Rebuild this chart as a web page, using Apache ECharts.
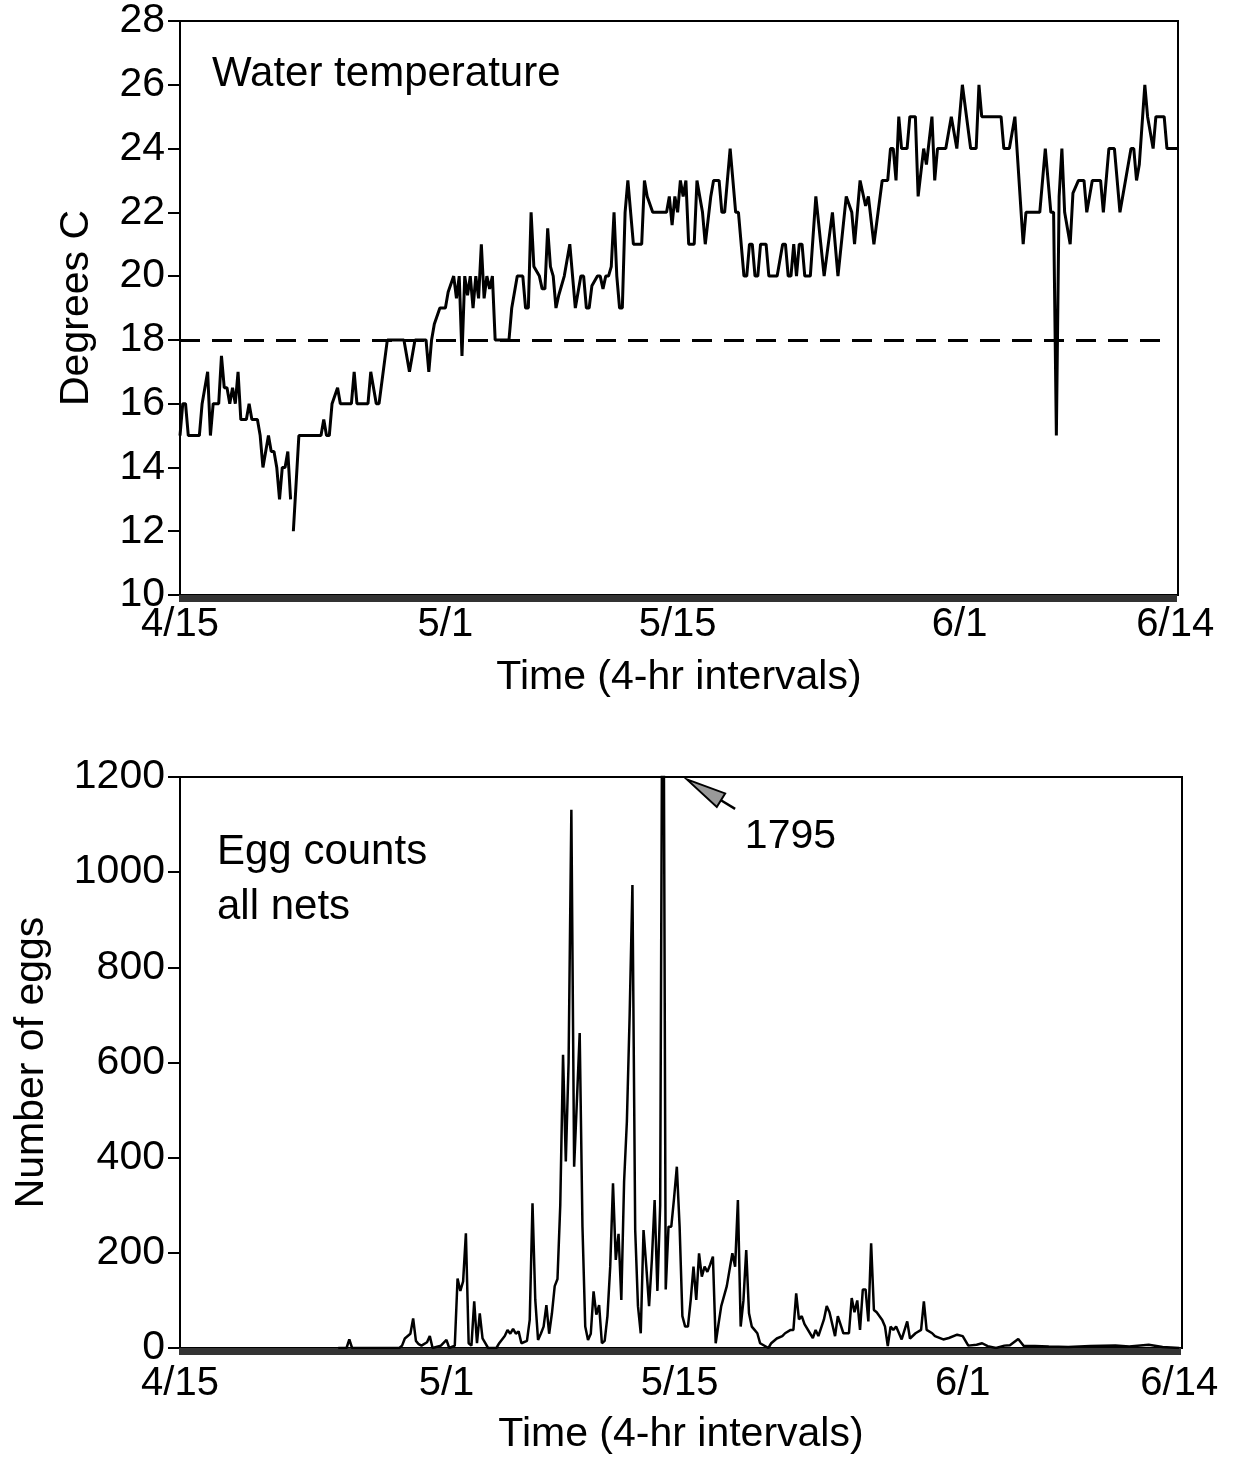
<!DOCTYPE html>
<html><head><meta charset="utf-8">
<script src="https://cdn.jsdelivr.net/npm/echarts@6/dist/echarts.min.js"></script>
<style>html,body{margin:0;padding:0;background:#fff}#c{width:1237px;height:1458px}</style>
</head><body><div id="c"></div>
<script>
// x = 4-hour interval index counted from 4/15 00:00 (6 per day)
const dateLabels = ['4/15', '5/1', '5/15', '6/1', '6/14'];
const dateTickIdx = [0, 96, 180, 282, 360];
const xTitle = 'Time (4-hr intervals)';
const tempTitle = 'Water temperature';
const tempAxisName = 'Degrees C';
const eggTitle = ['Egg counts', 'all nets'];
const eggAxisName = 'Number of eggs';
const threshold = 18;
const peakNote = '1795';
const peakArrowTip = [182.6, 1195];
const peakArrowTail = [200, 1133];
const peakNotePos = [203.5, 1075];

// [interval index, degrees C]
const tempReadings = [[0,15],[1,16],[2,16],[3,15],[7,15],[8,16],[9,16.5],[10,17],[11,15],[12,16],[14,16],[15,17.5],[16,16.5],[17,16.5],[18,16],[19,16.5],[20,16],[21,17],[22,15.5],[24,15.5],[25,16],[26,15.5],[28,15.5],[29,15],[30,14],[32,15],[33,14.5],[34,14.5],[35,14],[36,13],[37,14],[38,14],[39,14.5],[40,13],[40.5,null],[41,12],[43,15],[51,15],[52,15.5],[53,15],[54,15],[55,16],[57,16.5],[58,16],[62,16],[63,17],[64,16],[68,16],[69,17],[71,16],[72,16],[75,18],[81,18],[83,17],[85,18],[89,18],[90,17],[91,18],[92,18.5],[94,19],[96,19],[97,19.5],[99,20],[100,19.3],[101,20],[102,17.5],[103,20],[104,19.4],[105,20],[106,19],[107,20],[108,19.3],[109,21],[110,19.3],[111,20],[112,19.6],[113,20],[114,18],[119,18],[120,19],[121,19.5],[122,20],[124,20],[125,19],[126,19],[127,22],[128,20.3],[130,20],[131,19.6],[132,19.6],[133,21.5],[134,20.3],[135,20],[136,19],[137,19.4],[139,20],[141,21],[142,20],[143,19],[145,20],[146,20],[147,19],[148,19],[149,19.7],[151,20],[152,20],[153,19.6],[154,20],[155,20],[156,20.3],[157,22],[158,20],[159,19],[160,19],[161,22],[162,23],[164,21],[166,21],[167,21],[168,23],[169,22.5],[171,22],[176,22],[177,22.5],[178,21.6],[179,22.5],[180,22],[181,23],[182,22.5],[183,23],[184,21],[186,21],[187,23],[188,22.5],[189,22],[190,21],[192,22.5],[193,23],[195,23],[196,22],[197,22],[198,23],[199,24],[200,23],[201,22],[202,22],[204,20],[205,20],[206,21],[207,21],[208,20],[209,20],[210,21],[212,21],[213,20],[216,20],[218,21],[219,21],[220,20],[221,20],[222,21],[223,20],[224,21],[225,21],[226,20],[228,20],[230,22.5],[233,20],[236,22],[238,20],[241,22.5],[243,22],[244,21],[245,22],[246,23],[248,22.2],[249,22.5],[251,21],[254,23],[256,23],[257,24],[258,24],[259,23],[260,25],[261,24],[263,24],[264,25],[266,25],[267,22.5],[269,24],[270,23.5],[272,25],[273,23],[274,24],[277,24],[279,25],[281,24],[283,26],[286,24],[288,24],[289,26],[290,25],[297,25],[298,24],[300,24],[302,25],[305,21],[306,22],[311,22],[313,24],[315,22],[316,22],[317,15],[318,22.5],[319,24],[320,22],[322,21],[323,22.6],[325,23],[327,23],[328,22],[330,23],[333,23],[334,22],[336,24],[338,24],[339,23],[340,22],[342,23],[344,24],[345,24],[346,23],[347,23.5],[349,26],[350,25],[352,24],[353,25],[356,25],[357,24],[361,24]];

// [interval index, number of eggs]
const eggReadings = [[57,0],[60,0],[61,18],[62,0],[79,0],[80,5],[81,20],[83,30],[84,62],[85,15],[86,8],[87,5],[89,12],[90,25],[91,0],[94,5],[96,17],[97,0],[99,5],[100,146],[101,120],[102,140],[103,241],[104,10],[105,5],[106,98],[107,10],[108,73],[109,20],[110,10],[111,0],[114,0],[115,10],[117,25],[118,38],[119,30],[120,40],[121,30],[122,35],[123,10],[125,15],[126,59],[127,304],[128,101],[129,17],[130,30],[131,45],[132,90],[133,30],[134,73],[135,130],[136,145],[137,300],[138,616],[139,392],[140,600],[141,1131],[142,381],[143,520],[144,662],[145,255],[146,45],[147,17],[148,30],[149,119],[150,70],[151,90],[152,10],[153,15],[154,67],[155,171],[156,346],[157,185],[158,240],[159,101],[160,350],[161,476],[162,700],[163,973],[164,248],[165,88],[166,31],[167,248],[168,171],[169,88],[170,185],[171,311],[172,120],[173,300],[174,1795],[175,123],[176,255],[177,255],[178,315],[179,381],[180,255],[181,67],[182,45],[183,45],[184,101],[185,171],[186,101],[187,199],[188,150],[189,171],[190,160],[191,175],[192,192],[193,10],[194,50],[195,88],[197,130],[199,199],[200,171],[201,311],[202,45],[203,100],[204,206],[205,73],[206,45],[207,38],[208,31],[209,10],[212,0],[213,10],[215,20],[217,25],[218,31],[220,38],[221,38],[222,115],[223,60],[224,67],[225,50],[228,21],[229,38],[230,25],[232,60],[233,88],[234,75],[236,25],[237,67],[239,31],[241,31],[242,105],[243,75],[244,100],[245,38],[246,123],[247,123],[248,56],[249,220],[250,80],[251,75],[253,59],[254,45],[255,4],[256,45],[257,38],[258,45],[260,18],[262,56],[263,20],[265,31],[267,38],[268,98],[269,38],[271,31],[272,25],[275,18],[277,21],[280,28],[282,25],[284,5],[287,7],[289,10],[291,4],[294,0],[297,5],[299,6],[302,19],[304,4],[308,4],[313,3],[320,2],[328,4],[337,5],[342,3],[349,7],[354,2],[360,0]];

const FONT = '"Liberation Sans", Arial, Helvetica, sans-serif';
const tickPositions = [];
for (let i = 0; i <= 360; i++) tickPositions.push(i);

function xAxisFor(gridIndex, labelMargin, nameGap) {
  return {
    type: 'value', gridIndex: gridIndex, min: 0, max: 361,
    name: xTitle, nameLocation: 'middle', nameGap: nameGap,
    nameTextStyle: { fontFamily: FONT, fontSize: 41, color: '#000' },
    axisLine: { show: true, onZero: false, lineStyle: { color: '#000', width: 2 } },
    axisTick: { show: true, customValues: tickPositions, length: 7, lineStyle: { color: '#333', width: 3 } },
    axisLabel: { customValues: dateTickIdx, formatter: function (v) { const k = dateTickIdx.indexOf(v); return k >= 0 ? dateLabels[k] : ''; },
      margin: labelMargin, fontFamily: FONT, fontSize: 40, color: '#000' },
    splitLine: { show: false }
  };
}
function yAxisFor(gridIndex, min, max, interval, name, nameGap) {
  return {
    type: 'value', gridIndex: gridIndex, min: min, max: max, interval: interval,
    name: name, nameLocation: 'middle', nameGap: nameGap, nameRotate: 90,
    nameTextStyle: { fontFamily: FONT, fontSize: 41, color: '#000' },
    axisLine: { show: true, onZero: false, lineStyle: { color: '#000', width: 2 } },
    axisTick: { show: true, length: 12, lineStyle: { color: '#000', width: 2 } },
    axisLabel: { margin: 15, fontFamily: FONT, fontSize: 41, color: '#000', formatter: function (v) { return String(v); } },
    splitLine: { show: false }
  };
}

const chart = echarts.init(document.getElementById('c'), null, { renderer: 'canvas' });
chart.setOption({
  animation: false,
  backgroundColor: '#fff',
  grid: [
    { left: 180, top: 21, width: 998, height: 574, show: true, borderColor: '#000', borderWidth: 2, outerBoundsMode: 'none', containLabel: false },
    { left: 180, top: 777, width: 1002, height: 571, show: true, borderColor: '#000', borderWidth: 2, outerBoundsMode: 'none', containLabel: false }
  ],
  xAxis: [xAxisFor(0, 10, 62), xAxisFor(1, 16, 66)],
  yAxis: [yAxisFor(0, 10, 28, 2, tempAxisName, 83), yAxisFor(1, 0, 1200, 200, eggAxisName, 128)],
  series: [
    {
      type: 'line', xAxisIndex: 0, yAxisIndex: 0, data: tempReadings, showSymbol: false,
      connectNulls: false, clip: true,
      lineStyle: { color: '#000', width: 3 },
      markLine: {
        silent: true, symbol: 'none', label: { show: false },
        lineStyle: { color: '#000', width: 3, type: [20, 12] },
        data: [[{ coord: [0, threshold] }, { coord: [358, threshold] }]]
      }
    },
    {
      type: 'line', xAxisIndex: 1, yAxisIndex: 1, data: eggReadings, showSymbol: false,
      clip: true, lineStyle: { color: '#000', width: 2.5 }
    }
  ]
});

// annotations placed through the axes' own scales
const tip = chart.convertToPixel({ xAxisIndex: 1, yAxisIndex: 1 }, peakArrowTip);
const tail = chart.convertToPixel({ xAxisIndex: 1, yAxisIndex: 1 }, peakArrowTail);
const notePt = chart.convertToPixel({ xAxisIndex: 1, yAxisIndex: 1 }, peakNotePos);
const dx = tail[0] - tip[0], dy = tail[1] - tip[1];
const len = Math.sqrt(dx * dx + dy * dy);
const ux = dx / len, uy = dy / len;
const headLen = 40, halfW = 8;
const base = [tip[0] + ux * headLen, tip[1] + uy * headLen];
const p1 = [base[0] - uy * halfW, base[1] + ux * halfW];
const p2 = [base[0] + uy * halfW, base[1] - ux * halfW];

chart.setOption({
  graphic: [
    { type: 'text', left: 212, top: 53, style: { text: tempTitle, fontFamily: FONT, fontSize: 42, fill: '#000' } },
    { type: 'text', left: 217, top: 831, style: { text: eggTitle[0], fontFamily: FONT, fontSize: 42, fill: '#000' } },
    { type: 'text', left: 217, top: 886, style: { text: eggTitle[1], fontFamily: FONT, fontSize: 42, fill: '#000' } },
    { type: 'line', shape: { x1: base[0], y1: base[1], x2: tail[0], y2: tail[1] }, style: { stroke: '#000', lineWidth: 2.5 } },
    { type: 'polygon', shape: { points: [tip, p1, p2] }, style: { fill: '#999', stroke: '#000', lineWidth: 2 } },
    { type: 'text', x: notePt[0], y: notePt[1], style: { text: peakNote, fontFamily: FONT, fontSize: 41, fill: '#000', textAlign: 'left', textVerticalAlign: 'middle' } }
  ]
});
</script>
</body></html>
